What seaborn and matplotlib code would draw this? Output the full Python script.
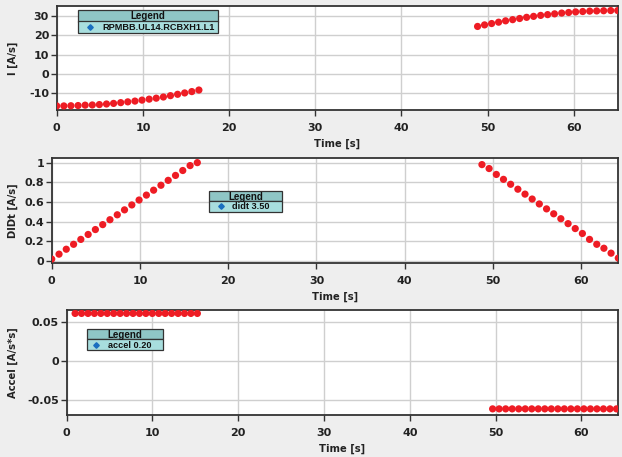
import matplotlib
matplotlib.use("Agg")
import matplotlib.pyplot as plt
from matplotlib.patches import Rectangle
from matplotlib.lines import Line2D
import pandas as pd
import seaborn as sns

# ---- data -------------------------------------------------------------
# current I [A/s]: ramp up, then ramp down
t_i_up = [0.0, 0.83, 1.65, 2.48, 3.3, 4.13, 4.95, 5.78, 6.6, 7.43, 8.25,
          9.08, 9.9, 10.73, 11.55, 12.38, 13.2, 14.03, 14.85, 15.68, 16.5]
i_up = [-16.5, -16.5, -16.4, -16.3, -16.1, -16.0, -15.8, -15.5, -15.2, -14.8,
        -14.4, -14.0, -13.5, -13.0, -12.5, -11.9, -11.2, -10.5, -9.8, -9.1, -8.3]
t_i_down = [48.84, 49.65, 50.47, 51.28, 52.09, 52.91, 53.72, 54.53, 55.34,
            56.16, 56.97, 57.78, 58.6, 59.41, 60.22, 61.04, 61.85, 62.66,
            63.47, 64.29, 65.1]
i_down = [24.5, 25.3, 26.0, 26.7, 27.4, 28.0, 28.6, 29.2, 29.7, 30.2, 30.6,
          31.0, 31.4, 31.7, 32.0, 32.2, 32.4, 32.5, 32.6, 32.7, 32.7]

# dI/dt [A/s]
t_d_up = [0.0, 0.83, 1.65, 2.48, 3.3, 4.13, 4.95, 5.78, 6.6, 7.43, 8.25,
          9.08, 9.9, 10.73, 11.55, 12.38, 13.2, 14.03, 14.85, 15.68, 16.5]
didt_up = [0.02, 0.07, 0.12, 0.17, 0.22, 0.27, 0.32, 0.37, 0.42, 0.47, 0.52,
           0.57, 0.62, 0.67, 0.72, 0.77, 0.82, 0.87, 0.92, 0.97, 1.0]
t_d_down = [48.75, 49.56, 50.38, 51.19, 52.0, 52.82, 53.63, 54.44, 55.25,
            56.07, 56.88, 57.69, 58.51, 59.32, 60.13, 60.94, 61.76, 62.57,
            63.38, 64.2]
didt_down = [0.98, 0.94, 0.88, 0.83, 0.78, 0.73, 0.68, 0.63, 0.58, 0.53,
             0.48, 0.43, 0.38, 0.33, 0.28, 0.22, 0.17, 0.13, 0.08, 0.03]

# acceleration [A/s*s]
t_a_up = [0.98, 1.73, 2.48, 3.23, 3.98, 4.73, 5.48, 6.23, 6.98, 7.73, 8.48,
          9.23, 9.98, 10.73, 11.48, 12.23, 12.98, 13.73, 14.48, 15.23]
accel_up = [0.061, 0.061, 0.061, 0.061, 0.061, 0.061, 0.061, 0.061, 0.061,
            0.061, 0.061, 0.061, 0.061, 0.061, 0.061, 0.061, 0.061, 0.061,
            0.061, 0.061]
t_a_down = [49.65, 50.41, 51.17, 51.93, 52.69, 53.45, 54.21, 54.97, 55.73,
            56.49, 57.25, 58.01, 58.77, 59.53, 60.29, 61.05, 61.81, 62.57,
            63.33, 64.09]
accel_down = [-0.062, -0.062, -0.062, -0.062, -0.062, -0.062, -0.062, -0.062,
              -0.062, -0.062, -0.062, -0.062, -0.062, -0.062, -0.062, -0.062,
              -0.062, -0.062, -0.062, -0.062]

x_ticks = [0, 10, 20, 30, 40, 50, 60]
i_ticks = [-10, 0, 10, 20, 30]
i_tick_labels = ["-10", "0", "10", "20", "30"]
didt_ticks = [0, 0.2, 0.4, 0.6, 0.8, 1.0]
didt_tick_labels = ["0", "0.2", "0.4", "0.6", "0.8", "1"]
accel_ticks = [-0.05, 0, 0.05]
accel_tick_labels = ["-0.05", "0", "0.05"]

legend_labels = ["RPMBB.UL14.RCBXH1.L1", "didt 3.50", "accel 0.20"]
y_labels = ["I [A/s]", "DIDt [A/s]", "Accel [A/s*s]"]
x_label = "Time [s]"

# ---- style ------------------------------------------------------------
sns.set_style("white")
plt.rcParams["font.family"] = ["DejaVu Sans"]
plt.rcParams["font.weight"] = "bold"

W, H = 622, 457
BG = "#eeeeee"
DOT = "#ee1c24"
EDGE = "#333333"
GRID = "#cfcfcf"
HEAD = "#8fc6c6"
ROW = "#a8dede"
MARK = "#1a6fbf"
TXT = "#222222"

fig = plt.figure(figsize=(W / 100, H / 100), dpi=100, facecolor=BG)


def px_axes(left, top, right, bottom):
    return fig.add_axes([left / W, 1 - bottom / H, (right - left) / W,
                         (bottom - top) / H])


def panel(ax, segs, xlim, ylim, yticks, ylabels, ylabel):
    frames = []
    for k, (tx, vy) in enumerate(segs):
        frames.append(pd.DataFrame({"t": tx, "v": vy, "seg": k}))
    df = pd.concat(frames, ignore_index=True)
    ax.set_facecolor("white")
    for _, g in df.groupby("seg"):
        sns.scatterplot(data=g, x="t", y="v", ax=ax, color=DOT, s=27,
                        edgecolor="none", linewidth=0, legend=False,
                        zorder=3, clip_on=True)
    ax.set_xlim(*xlim)
    ax.set_ylim(*ylim)
    ax.set_xticks(x_ticks)
    ax.set_xticklabels([str(v) for v in x_ticks])
    ax.set_yticks(yticks)
    ax.set_yticklabels(ylabels)
    ax.grid(True, color=GRID, linewidth=1.0)
    ax.set_axisbelow(True)
    for s in ax.spines.values():
        s.set_color(EDGE)
        s.set_linewidth(1.3)
    ax.tick_params(axis="both", direction="out", length=4, width=1,
                   color=EDGE, labelsize=8, labelcolor=TXT,
                   left=True, bottom=True)
    ax.tick_params(axis="x", pad=5.5)
    ax.tick_params(axis="y", pad=1.5)
    for lab in ax.get_xticklabels() + ax.get_yticklabels():
        lab.set_fontweight("bold")
    ax.set_xlabel(x_label, fontsize=7.2, fontweight="bold", color=TXT,
                  labelpad=4)
    ax.set_ylabel("")
    pos = ax.get_position()
    fig.text(13 / W, pos.y0 + pos.height / 2, ylabel, rotation=90,
             ha="center", va="center", fontsize=7.2, fontweight="bold",
             color=TXT)


def legend_box(x0, y0, x1, ymid, y1, label, mx, tx):
    fx = lambda x: x / W
    fy = lambda y: 1 - y / H
    fig.patches.append(Rectangle((fx(x0), fy(ymid)), fx(x1) - fx(x0),
                                 fy(y0) - fy(ymid), transform=fig.transFigure,
                                 facecolor=HEAD, edgecolor=EDGE, lw=0.9,
                                 zorder=10))
    fig.patches.append(Rectangle((fx(x0), fy(y1)), fx(x1) - fx(x0),
                                 fy(ymid) - fy(y1), transform=fig.transFigure,
                                 facecolor=ROW, edgecolor=EDGE, lw=0.9,
                                 zorder=10))
    fig.text(fx((x0 + x1) / 2), fy((y0 + ymid) / 2 + 0.5), "Legend",
             ha="center", va="center", fontsize=7, fontweight="bold",
             family=["Liberation Sans", "DejaVu Sans"], color="#111111",
             zorder=11)
    fig.lines.append(Line2D([fx(mx)], [fy((ymid + y1) / 2)], marker="D",
                            markersize=2.8, color=MARK, linestyle="none",
                            transform=fig.transFigure, zorder=11))
    fig.text(fx(tx), fy((ymid + y1) / 2 + 0.5), label, ha="left",
             va="center", fontsize=6.6, fontweight="bold",
             family=["Liberation Sans", "DejaVu Sans"], color="#111111",
             zorder=11)


ax1 = px_axes(56.7, 5.7, 617.7, 110)
panel(ax1, [(t_i_up, i_up), (t_i_down, i_down)], (0, 65.1), (-18.6, 35.2),
      i_ticks, i_tick_labels, y_labels[0])

ax2 = px_axes(51.7, 158.3, 618.3, 263.3)
panel(ax2, [(t_d_up, didt_up), (t_d_down, didt_down)], (0, 64.2),
      (-0.023, 1.044), didt_ticks, didt_tick_labels, y_labels[1])

ax3 = px_axes(66.7, 310, 618.3, 415)
panel(ax3, [(t_a_up, accel_up), (t_a_down, accel_down)], (0.76, 64.3),
      (-0.0699, 0.0654), accel_ticks, accel_tick_labels, y_labels[2])

legend_box(78, 10, 218, 21.5, 33, legend_labels[0], 89.5, 102.5)
legend_box(209, 191, 282, 201, 211.7, legend_labels[1], 221, 231.5)
legend_box(86.7, 328.7, 163.3, 339.3, 350.3, legend_labels[2], 96, 108)

fig.savefig("out.png", dpi=100, facecolor=BG)
